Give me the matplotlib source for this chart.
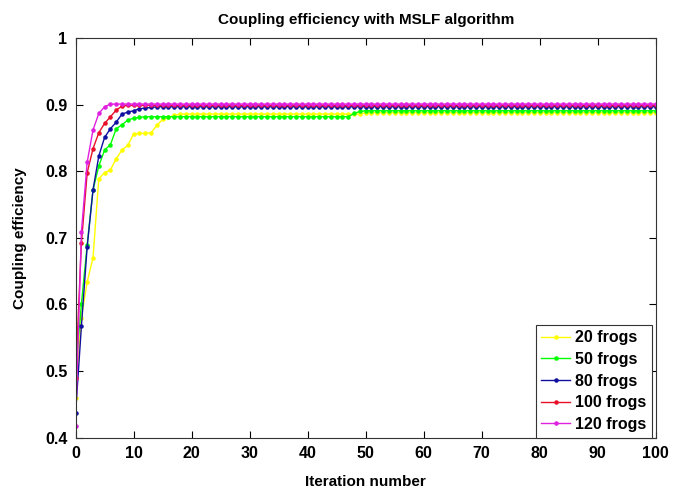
import numpy as np
import matplotlib
matplotlib.use('Agg')
from matplotlib import pyplot as plt

plt.rcParams['font.family'] = ['Liberation Sans', 'DejaVu Sans']
plt.rcParams['font.weight'] = 'bold'

iterations = list(range(0, 101))

# coupling efficiency per iteration
frogs20 = [0.460, 0.580, 0.634, 0.670, 0.789, 0.798, 0.802, 0.819, 0.832, 0.839,
           0.856, 0.857, 0.857, 0.858, 0.869, 0.878, 0.881, 0.884, 0.886, 0.886,
           0.886, 0.886, 0.886, 0.886, 0.886, 0.886, 0.886, 0.886, 0.886, 0.886,
           0.886, 0.886, 0.886, 0.886, 0.886, 0.886, 0.886, 0.886, 0.886, 0.886,
           0.886, 0.886, 0.886, 0.886, 0.886, 0.886, 0.886, 0.886, 0.886, 0.886,
           0.888, 0.888, 0.888, 0.888, 0.888, 0.888, 0.888, 0.888, 0.888, 0.888,
           0.888, 0.888, 0.888, 0.888, 0.888, 0.888, 0.888, 0.888, 0.888, 0.888,
           0.888, 0.888, 0.888, 0.888, 0.888, 0.888, 0.888, 0.888, 0.888, 0.888,
           0.888, 0.888, 0.888, 0.888, 0.888, 0.888, 0.888, 0.888, 0.888, 0.888,
           0.888, 0.888, 0.888, 0.888, 0.888, 0.888, 0.888, 0.888, 0.888, 0.888,
           0.888]
frogs50 = [0.500, 0.600, 0.690, 0.772, 0.808, 0.832, 0.840, 0.864, 0.870, 0.877,
           0.880, 0.881, 0.882, 0.882, 0.882, 0.882, 0.882, 0.882, 0.882, 0.882,
           0.882, 0.882, 0.882, 0.882, 0.882, 0.882, 0.882, 0.882, 0.882, 0.882,
           0.882, 0.882, 0.882, 0.882, 0.882, 0.882, 0.882, 0.882, 0.882, 0.882,
           0.882, 0.882, 0.882, 0.882, 0.882, 0.882, 0.882, 0.882, 0.887, 0.890,
           0.891, 0.891, 0.891, 0.891, 0.891, 0.891, 0.891, 0.891, 0.891, 0.891,
           0.891, 0.891, 0.891, 0.891, 0.891, 0.891, 0.891, 0.891, 0.891, 0.891,
           0.891, 0.891, 0.891, 0.891, 0.891, 0.891, 0.891, 0.891, 0.891, 0.891,
           0.891, 0.891, 0.891, 0.891, 0.891, 0.891, 0.891, 0.891, 0.891, 0.891,
           0.891, 0.891, 0.891, 0.891, 0.891, 0.891, 0.891, 0.891, 0.891, 0.891,
           0.891]
frogs80 = [0.437, 0.567, 0.687, 0.772, 0.823, 0.851, 0.864, 0.874, 0.886, 0.889,
           0.891, 0.894, 0.895, 0.896, 0.897, 0.897, 0.897, 0.897, 0.897, 0.897,
           0.897, 0.897, 0.897, 0.897, 0.897, 0.897, 0.897, 0.897, 0.897, 0.897,
           0.897, 0.897, 0.897, 0.897, 0.897, 0.897, 0.897, 0.897, 0.897, 0.897,
           0.897, 0.897, 0.897, 0.897, 0.897, 0.897, 0.897, 0.897, 0.897, 0.897,
           0.897, 0.897, 0.897, 0.897, 0.897, 0.897, 0.897, 0.897, 0.897, 0.897,
           0.897, 0.897, 0.897, 0.897, 0.897, 0.897, 0.897, 0.897, 0.897, 0.897,
           0.897, 0.897, 0.897, 0.897, 0.897, 0.897, 0.897, 0.897, 0.897, 0.897,
           0.897, 0.897, 0.897, 0.897, 0.897, 0.897, 0.897, 0.897, 0.897, 0.897,
           0.897, 0.897, 0.897, 0.897, 0.897, 0.897, 0.897, 0.897, 0.897, 0.897,
           0.897]
frogs100 = [0.490, 0.692, 0.798, 0.834, 0.858, 0.872, 0.882, 0.892, 0.898, 0.899,
            0.899, 0.899, 0.899, 0.899, 0.899, 0.899, 0.899, 0.899, 0.899, 0.899,
            0.899, 0.899, 0.899, 0.899, 0.899, 0.899, 0.899, 0.899, 0.899, 0.899,
            0.899, 0.899, 0.899, 0.899, 0.899, 0.899, 0.899, 0.899, 0.899, 0.899,
            0.899, 0.899, 0.899, 0.899, 0.899, 0.899, 0.899, 0.899, 0.899, 0.899,
            0.899, 0.899, 0.899, 0.899, 0.899, 0.899, 0.899, 0.899, 0.899, 0.899,
            0.899, 0.899, 0.899, 0.899, 0.899, 0.899, 0.899, 0.899, 0.899, 0.899,
            0.899, 0.899, 0.899, 0.899, 0.899, 0.899, 0.899, 0.899, 0.899, 0.899,
            0.899, 0.899, 0.899, 0.899, 0.899, 0.899, 0.899, 0.899, 0.899, 0.899,
            0.899, 0.899, 0.899, 0.899, 0.899, 0.899, 0.899, 0.899, 0.899, 0.899,
            0.899]
frogs120 = [0.418, 0.709, 0.814, 0.862, 0.887, 0.897, 0.901, 0.901, 0.901, 0.901,
            0.901, 0.901, 0.901, 0.901, 0.901, 0.901, 0.901, 0.901, 0.901, 0.901,
            0.901, 0.901, 0.901, 0.901, 0.901, 0.901, 0.901, 0.901, 0.901, 0.901,
            0.901, 0.901, 0.901, 0.901, 0.901, 0.901, 0.901, 0.901, 0.901, 0.901,
            0.901, 0.901, 0.901, 0.901, 0.901, 0.901, 0.901, 0.901, 0.901, 0.901,
            0.901, 0.901, 0.901, 0.901, 0.901, 0.901, 0.901, 0.901, 0.901, 0.901,
            0.901, 0.901, 0.901, 0.901, 0.901, 0.901, 0.901, 0.901, 0.901, 0.901,
            0.901, 0.901, 0.901, 0.901, 0.901, 0.901, 0.901, 0.901, 0.901, 0.901,
            0.901, 0.901, 0.901, 0.901, 0.901, 0.901, 0.901, 0.901, 0.901, 0.901,
            0.901, 0.901, 0.901, 0.901, 0.901, 0.901, 0.901, 0.901, 0.901, 0.901,
            0.901]

labels = ['20 frogs', '50 frogs', '80 frogs', '100 frogs', '120 frogs']
colors = ['#ffff00', '#00ff00', '#1010a0', '#e8102a', '#e020e0']
series = [frogs20, frogs50, frogs80, frogs100, frogs120]

fig = plt.figure(figsize=(6.81, 4.90), dpi=100)
ax = fig.add_axes([0.111, 0.107, 0.852, 0.815])

for vals, col, lab in zip(series, colors, labels):
    ax.plot(iterations, vals, '.-', color=col, lw=1.0, ms=4.5, label=lab)

ax.set_xlim(0, 100)
ax.set_ylim(0.4, 1.0)
ax.set_xticks(np.arange(0, 101, 10))
ax.set_yticks([0.4, 0.5, 0.6, 0.7, 0.8, 0.9, 1.0])
ax.set_yticklabels(['0.4', '0.5', '0.6', '0.7', '0.8', '0.9', '1'])
ax.tick_params(direction='in', top=True, right=True, length=5, width=0.8,
               labelsize=11.5, pad=6)
for s in ax.spines.values():
    s.set_linewidth(0.8)
    s.set_color('#333333')

ax.set_title('Coupling efficiency with MSLF algorithm', fontsize=11,
             fontweight='bold', pad=10)
ax.set_xlabel('Iteration number', fontsize=11, fontweight='bold', labelpad=10)
ax.set_ylabel('Coupling efficiency', fontsize=11, fontweight='bold', labelpad=13)

leg = ax.legend(loc='lower right', bbox_to_anchor=(0.993, 0.0), borderaxespad=0,
                fancybox=False, edgecolor='#333333', framealpha=1,
                fontsize=11.5, handlelength=1.8, handletextpad=0.3,
                labelspacing=0.42, borderpad=0.35)
leg.get_frame().set_linewidth(0.8)

fig.savefig('out.png', dpi=100)
